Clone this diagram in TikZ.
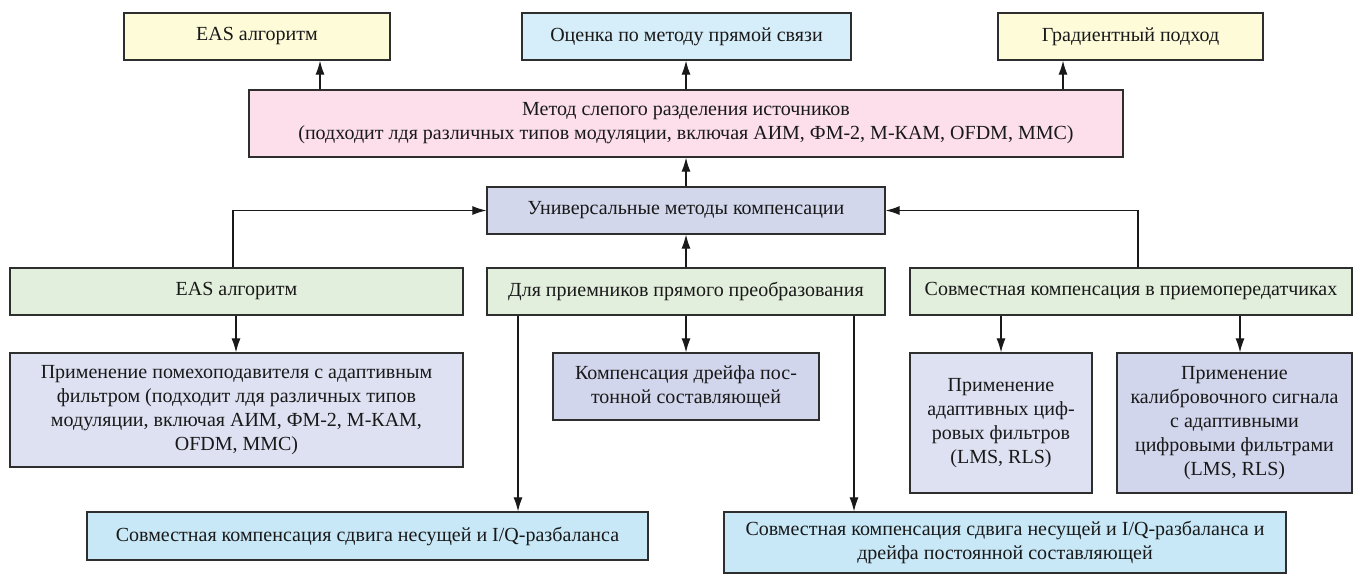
\documentclass[tikz,border=0pt]{standalone}
\usepackage{fontspec}
\setmainfont{Liberation Serif}
\usetikzlibrary{arrows.meta}
\definecolor{cyel}{HTML}{FDFBD8}
\definecolor{cblu}{HTML}{D5EEF9}
\definecolor{cpnk}{HTML}{FCDFEA}
\definecolor{cuni}{HTML}{D2D7EC}
\definecolor{cgrn}{HTML}{E3EFDD}
\definecolor{clav}{HTML}{DEE1F2}
\definecolor{cdlav}{HTML}{D2D6EC}
\definecolor{cbot}{HTML}{C8E8F7}
\definecolor{cline}{HTML}{2E2E2E}
\tikzset{
  box/.style={draw=cline, line width=1.3pt, inner sep=0pt, align=center,
    font=\fontsize{20}{24}\selectfont, text=black!90},
  arr/.style={draw=black!90, line width=1.1pt, -{Latex[length=14pt,width=9pt]}}
}
\begin{document}
\begin{tikzpicture}[x=1pt,y=-1pt]
\useasboundingbox (0,0) rectangle (1353,576);
% top row
\node[box, fill=cyel, minimum width=266pt, minimum height=47pt] (T1) at (257,36.5) {EAS алгоритм};
\node[box, fill=cblu, minimum width=329pt, minimum height=47pt] (T2) at (686.5,36.5) {Оценка по методу прямой связи};
\node[box, fill=cyel, minimum width=265pt, minimum height=47pt] (T3) at (1130.5,36.5) {Градиентный подход};
% pink
\node[box, fill=cpnk, minimum width=874pt, minimum height=67pt] (P) at (686,123.5) {Метод слепого разделения источников\\(подходит лдя различных типов модуляции, включая АИМ, ФМ-2, М-КАМ, OFDM, MMC)};
% universal
\node[box, fill=cuni, minimum width=398pt, minimum height=47pt] (U) at (686,210.5) {Универсальные методы компенсации};
% green row
\node[box, fill=cgrn, minimum width=453pt, minimum height=47pt] (G1) at (236.5,291.5) {EAS алгоритм};
\node[box, fill=cgrn, minimum width=398pt, minimum height=47pt] (G2) at (686,291.5) {Для приемников прямого преобразования};
\node[box, fill=cgrn, minimum width=442pt, minimum height=47pt] (G3) at (1131,291.5) {Совместная компенсация в приемопередатчиках};
% lower row
\node[box, fill=clav, minimum width=453pt, minimum height=114pt] (L1) at (236.5,410) {Применение помехоподавителя с адаптивным\\фильтром (подходит лдя различных типов\\модуляции, включая АИМ, ФМ-2, М-КАМ,\\OFDM, MMC)};
\node[box, fill=cdlav, minimum width=266pt, minimum height=67pt] (L2) at (686,386.5) {Компенсация дрейфа пос-\\тонной составляющей};
\node[box, fill=clav, minimum width=182pt, minimum height=140pt] (L3) at (1001,423) {Применение\\адаптивных циф-\\ровых фильтров\\(LMS, RLS)};
\node[box, fill=cdlav, minimum width=235pt, minimum height=140pt] (L4) at (1234.5,423) {Применение\\калибровочного сигнала\\с адаптивными\\цифровыми фильтрами\\(LMS, RLS)};
% bottom row
\node[box, fill=cbot, minimum width=561pt, minimum height=48pt] (B1) at (367.5,536) {Совместная компенсация сдвига несущей и I/Q-разбаланса};
\node[box, fill=cbot, minimum width=562pt, minimum height=61pt] (B2) at (1005,542.5) {Совместная компенсация сдвига несущей и I/Q-разбаланса и\\дрейфа постоянной составляющей};
% helper x positions
\coordinate (x1) at (320,0);
\coordinate (x3) at (1063,0);
\coordinate (k1) at (233,0);
\coordinate (k3) at (1138,0);
\coordinate (d1) at (236,0);
\coordinate (m1) at (518,0);
\coordinate (m2) at (854,0);
\coordinate (r1) at (1001,0);
\coordinate (r2) at (1240,0);
% connectors
\draw[arr] (P.north -| x1) -- (T1.south -| x1);
\draw[arr] (P.north) -- (T2.south -| P.north);
\draw[arr] (P.north -| x3) -- (T3.south -| x3);
\draw[arr] (U.north) -- (P.south);
\draw[arr] (G2.north) -- (U.south);
\draw[arr] (G1.north -| k1) |- (U.west);
\draw[arr] (G3.north -| k3) |- (U.east);
\draw[arr] (G1.south -| d1) -- (L1.north -| d1);
\draw[arr] (G2.south) -- (L2.north);
\draw[arr] (G2.south -| m1) -- (B1.north -| m1);
\draw[arr] (G2.south -| m2) -- (B2.north -| m2);
\draw[arr] (G3.south -| r1) -- (L3.north -| r1);
\draw[arr] (G3.south -| r2) -- (L4.north -| r2);
\end{tikzpicture}
\end{document}
